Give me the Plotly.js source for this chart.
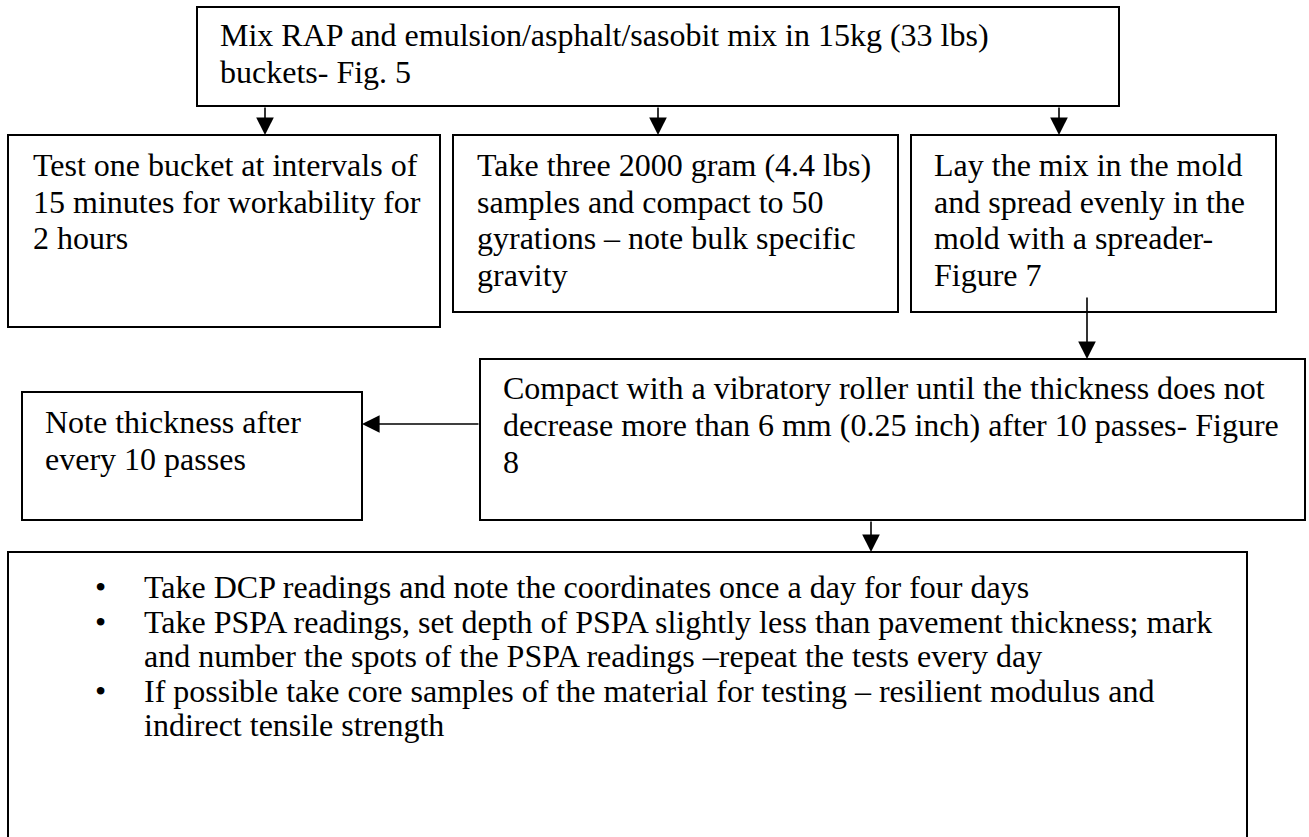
<!DOCTYPE html>
<html>
<head>
<meta charset="utf-8">
<script src="https://cdn.plot.ly/plotly-3.0.1.min.js"></script>
<style>html,body{margin:0;padding:0;background:#fff;}#chart{width:1309px;height:837px;}</style>
</head>
<body>
<div id="chart"></div>
<script>
// ---- Content (text of each flowchart step) ----
const stepMix = ["Mix RAP and emulsion/asphalt/sasobit mix in 15kg (33 lbs)", "buckets- Fig. 5"];
const stepWorkability = ["Test one bucket at intervals of", "15 minutes for workability for", "2 hours"];
const stepSamples = ["Take three 2000 gram (4.4 lbs)", "samples and compact to 50", "gyrations \u2013 note bulk specific", "gravity"];
const stepLay = ["Lay the mix in the mold", "and spread evenly in the", "mold with a spreader-", "Figure 7"];
const stepCompact = ["Compact with a vibratory roller until the thickness does not", "decrease more than 6 mm (0.25 inch) after 10 passes- Figure", "8"];
const stepNote = ["Note thickness after", "every 10 passes"];
const stepTests = [
  ["Take DCP readings and note the coordinates once a day for four days"],
  ["Take PSPA readings, set depth of PSPA slightly less than pavement thickness; mark", "and number the spots of the PSPA readings \u2013repeat the tests every day"],
  ["If possible take core samples of the material for testing \u2013 resilient modulus and", "indirect tensile strength"]
];

// ---- Layout geometry (pixels, y downwards) ----
const boxes = [
  {lines: stepMix,         x0: 197, x1: 1119, y0: 7,   y1: 106, tx: 218, ty: 35,  dy: 37},
  {lines: stepWorkability, x0: 8,   x1: 440,  y0: 135, y1: 327, tx: 31,  ty: 165, dy: 36.7},
  {lines: stepSamples,     x0: 453, x1: 898,  y0: 135, y1: 312, tx: 475, ty: 165, dy: 36.7},
  {lines: stepLay,         x0: 911, x1: 1276, y0: 135, y1: 312, tx: 932, ty: 165, dy: 36.7},
  {lines: stepCompact,     x0: 480, x1: 1305, y0: 359, y1: 520, tx: 501, ty: 388, dy: 37},
  {lines: stepNote,        x0: 22,  x1: 362,  y0: 392, y1: 520, tx: 43,  ty: 422, dy: 36.7}
];
const testBox = {x0: 8, x1: 1247, y0: 552, bulletX: 100, tx: 142, ty: 587, dy: 34.6};
const arrows = [
  {x0: 265,  y0: 106, x1: 265,  y1: 135},
  {x0: 658,  y0: 106, x1: 658,  y1: 135},
  {x0: 1059, y0: 106, x1: 1059, y1: 135},
  {x0: 1087, y0: 296, x1: 1087, y1: 359},
  {x0: 480,  y0: 424, x1: 362,  y1: 424},
  {x0: 871,  y0: 520, x1: 871,  y1: 552}
];

const FONT = {family: "Liberation Serif, 'Times New Roman', serif", size: 32, color: "#000"};
const shapes = [];
const annotations = [];

boxes.forEach(b => {
  shapes.push({type: "rect", xref: "x", yref: "y", x0: b.x0, x1: b.x1, y0: b.y0, y1: b.y1,
               line: {color: "#000", width: 2}, fillcolor: "rgba(0,0,0,0)"});
  b.lines.forEach((t, i) => {
    annotations.push({xref: "x", yref: "y", x: b.tx, y: b.ty + i * b.dy, text: t,
      showarrow: false, xanchor: "left", yanchor: "middle", font: FONT});
  });
});

// Bottom box: open at the bottom (extends beyond the page)
shapes.push({type: "path", xref: "x", yref: "y",
  path: `M ${testBox.x0},860 L ${testBox.x0},${testBox.y0} L ${testBox.x1},${testBox.y0} L ${testBox.x1},860`,
  line: {color: "#000", width: 2}});
let lineIdx = 0;
stepTests.forEach(item => {
  annotations.push({xref: "x", yref: "y", x: testBox.bulletX, y: testBox.ty + lineIdx * testBox.dy, text: "\u2022",
    showarrow: false, xanchor: "center", yanchor: "middle", font: FONT});
  item.forEach(t => {
    annotations.push({xref: "x", yref: "y", x: testBox.tx, y: testBox.ty + lineIdx * testBox.dy, text: t,
      showarrow: false, xanchor: "left", yanchor: "middle", font: FONT});
    lineIdx++;
  });
});

arrows.forEach(a => {
  annotations.push({xref: "x", yref: "y", axref: "x", ayref: "y", x: a.x1, y: a.y1, ax: a.x0, ay: a.y0,
    text: "", showarrow: true, arrowhead: 2, arrowsize: 2.2, arrowwidth: 1.6, arrowcolor: "#000", standoff: 0, startstandoff: 0});
});

const layout = {
  width: 1309, height: 837,
  margin: {l: 0, r: 0, t: 0, b: 0},
  paper_bgcolor: "#fff", plot_bgcolor: "#fff",
  xaxis: {range: [0, 1309], visible: false, fixedrange: true},
  yaxis: {range: [837, 0], visible: false, fixedrange: true},
  shapes: shapes,
  annotations: annotations,
  showlegend: false
};
Plotly.newPlot("chart", [], layout, {displayModeBar: false, staticPlot: true});
</script>
</body>
</html>
